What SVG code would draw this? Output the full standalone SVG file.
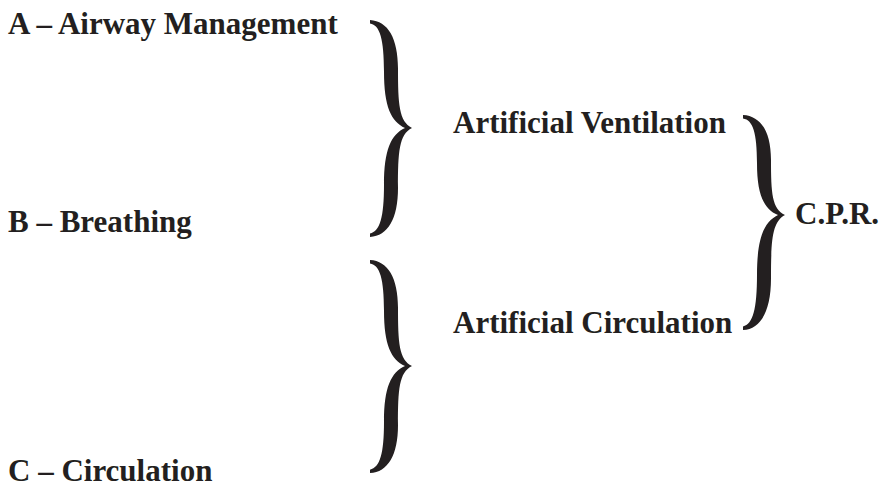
<svg xmlns="http://www.w3.org/2000/svg" width="887" height="488" viewBox="0 0 887 488">
<style>
  .t { font-family: "Liberation Serif", "Times New Roman", serif; font-weight: bold; font-size: 31px; fill: #231f20; }
  .br { fill: #231f20; stroke: none; }
</style>
<rect width="887" height="488" fill="#ffffff"/>
<g id="connectors">
  <path id="brace1" class="br" transform="translate(370,20)" d="M0,0 C18,1 28,18.4 28,48.6 C28,84.2 29,101.5 42,108 C29,114.5 28,132 28,168 C28,198.5 18,216 0,217 L0,213.5 C10,211 14,197.4 14,164.7 C14,129.8 21,114.5 35,108 C21,101.5 14,86.4 14,51.8 C14,19.4 10,5 0,3.5 Z"/>
  <path id="brace2" class="br" transform="translate(370,260) scale(1,0.982)" d="M0,0 C18,1 28,18.4 28,48.6 C28,84.2 29,101.5 42,108 C29,114.5 28,132 28,168 C28,198.5 18,216 0,217 L0,213.5 C10,211 14,197.4 14,164.7 C14,129.8 21,114.5 35,108 C21,101.5 14,86.4 14,51.8 C14,19.4 10,5 0,3.5 Z"/>
  <path id="brace3" class="br" transform="translate(743,115)" d="M0,0 C18,1 28,17 28,45 C28,78 29,94 42,100 C29,106.9 28,125.3 28,163.3 C28,195.5 18,214 0,215 L0,211.5 C10,209 14,194.3 14,159.8 C14,123 21,106.9 35,100 C21,94 14,80 14,48 C14,18 10,5 0,3.5 Z"/>
</g>
<g id="nodeA"><text class="t" x="8" y="34">A – Airway Management</text></g>
<g id="nodeB"><text class="t" x="8" y="232">B – Breathing</text></g>
<g id="nodeC"><text class="t" x="8" y="481">C – Circulation</text></g>
<g id="nodeAV"><text class="t" x="453" y="133">Artificial Ventilation</text></g>
<g id="nodeAC"><text class="t" x="453" y="333">Artificial Circulation</text></g>
<g id="nodeCPR"><text class="t" x="795" y="224">C.P.R.</text></g>
</svg>
